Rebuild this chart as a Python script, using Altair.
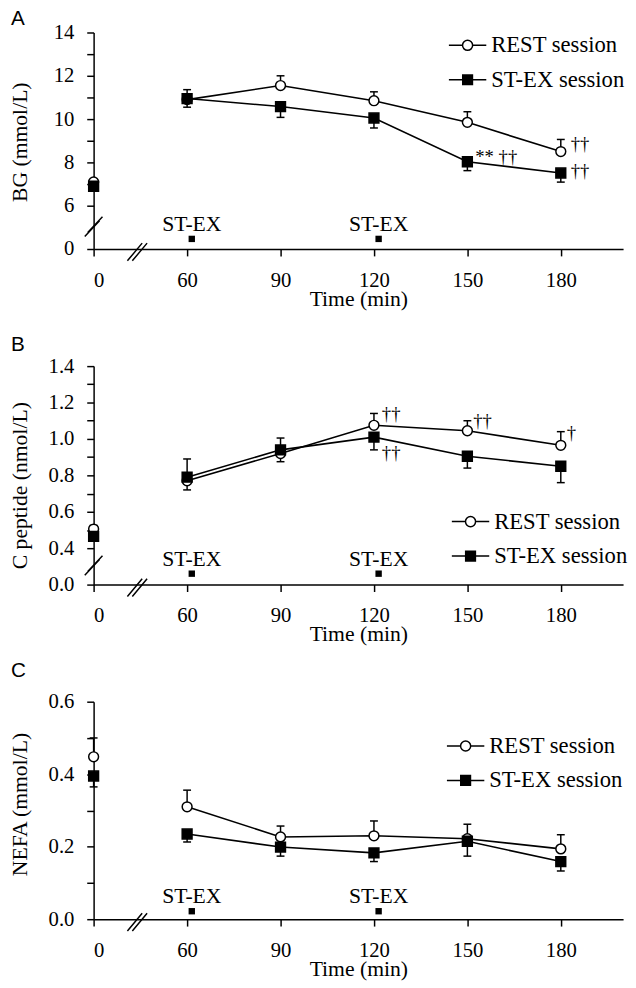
import altair as alt
import pandas as pd

# ---------------- data ----------------
times = [0, 60, 90, 120, 150, 180]
series_names = ["REST session", "ST-EX session"]

# Panel A: blood glucose (mmol/L), mean and SE
bg_rest = [7.1, 10.9, 11.55, 10.85, 9.85, 8.5]
bg_rest_se = [0.1, 0.46, 0.45, 0.41, 0.49, 0.56]
bg_rest_dir = [1, 1, 1, 1, 1, 1]
bg_st = [6.9, 10.95, 10.58, 10.05, 8.03, 7.51]
bg_st_se = [0.1, 0.4, 0.5, 0.46, 0.41, 0.42]
bg_st_dir = [-1, -1, -1, -1, -1, -1]

# Panel B: C peptide (nmol/L)
cp_rest = [0.505, 0.77, 0.92, 1.075, 1.045, 0.965]
cp_rest_se = [0.02, 0.05, 0.045, 0.065, 0.055, 0.075]
cp_rest_dir = [1, -1, -1, 1, 1, 1]
cp_st = [0.465, 0.79, 0.94, 1.01, 0.905, 0.85]
cp_st_se = [0.02, 0.1, 0.065, 0.07, 0.065, 0.09]
cp_st_dir = [-1, 1, 1, -1, -1, -1]

# Panel C: NEFA (mmol/L)
nefa_rest = [0.448, 0.31, 0.227, 0.23, 0.222, 0.194]
nefa_rest_se = [0.052, 0.046, 0.03, 0.041, 0.04, 0.039]
nefa_rest_dir = [1, 1, 1, 1, 1, 1]
nefa_st = [0.395, 0.235, 0.199, 0.183, 0.215, 0.159]
nefa_st_se = [0.03, 0.022, 0.025, 0.024, 0.041, 0.026]
nefa_st_dir = [-1, -1, -1, -1, -1, -1]

exercise_times = [61.5, 121.5]
exercise_labels = ["ST-EX", "ST-EX"]

# significance marks
sig_panel = ["A", "A", "A", "B", "B", "B", "B"]
sig_series = ["ST-EX session", "REST session", "ST-EX session",
              "REST session", "ST-EX session", "REST session", "REST session"]
sig_time = [150, 180, 180, 120, 120, 150, 180]
sig_text = ["**  \u2020\u2020", "\u2020\u2020", "\u2020\u2020",
            "\u2020\u2020", "\u2020\u2020", "\u2020\u2020", "\u2020"]
# style: pixel offsets of each mark from its data point
sig_offsets = [(8, 1), (10, -2), (10, 4), (8, -5), (8, 22), (6, -4), (6, -6)]

# ---------------- styling ----------------
SERIF = "Liberation Serif"
SANS = "Liberation Sans"
W = 538
X_DOMAIN = [0, 60, 200]
X_RANGE = [0, 95, W]

REST_PATH = ("M-1,0H-0.27M0.27,0H1M0.27,0A0.27,0.27,0,1,1,-0.27,0"
             "A0.27,0.27,0,1,1,0.27,0Z")
ST_PATH = "M-1,0H-0.26M0.26,0H1M-0.26,-0.26H0.26V0.26H-0.26Z"
XBREAK_PATH = "M-1,1.2L0.5,-0.6M-0.5,1.2L1,-0.6"
YBREAK_PATH = "M-0.9,1L0.6,-0.6M-0.6,0.6L0.9,-1"


def series_frame(rest, rest_se, rest_dir, st, st_se, st_dir):
    rows = []
    for name, vals, ses, dirs in [(series_names[0], rest, rest_se, rest_dir),
                                  (series_names[1], st, st_se, st_dir)]:
        for t, v, s, d in zip(times, vals, ses, dirs):
            rows.append({"time": t, "value": v, "err_end": v + d * s, "series": name})
    return pd.DataFrame(rows)


panels = [
    dict(key="A", ytitle="BG (mmol/L)", height=220,
         ydomain=[0, 6, 14], yrange=[220, 176, 0],
         yticks=[0, 6, 7, 8, 9, 10, 11, 12, 13, 14], yfmt="d",
         lexpr="datum.value % 2 == 1 ? '' : datum.label",
         ybreak=3.1, ex_y=1.4, legend=(360, -7), title_y=111, title_off=-24.5,
         df=series_frame(bg_rest, bg_rest_se, bg_rest_dir, bg_st, bg_st_se, bg_st_dir)),
    dict(key="B", ytitle="C peptide (nmol/L)", height=222,
         ydomain=[0, 0.4, 1.4], yrange=[222, 185, 0],
         yticks=[0, 0.4, 0.5, 0.6, 0.7, 0.8, 0.9, 1.0, 1.1, 1.2, 1.3, 1.4], yfmt=".1f",
         lexpr="round(datum.value * 10) % 2 == 1 ? '' : datum.label",
         ybreak=0.21, ex_y=0.12, legend=(363, 138), title_y=121, title_off=-16.5,
         df=series_frame(cp_rest, cp_rest_se, cp_rest_dir, cp_st, cp_st_se, cp_st_dir)),
    dict(key="C", ytitle="NEFA (mmol/L)", height=221,
         ydomain=[0, 0.6], yrange=[221, 0],
         yticks=[0, 0.1, 0.2, 0.3, 0.4, 0.5, 0.6], yfmt=".1f",
         lexpr="round(datum.value * 10) % 2 == 1 ? '' : datum.label",
         ybreak=None, ex_y=0.022, legend=(358, 25), title_y=104, title_off=-6.5,
         df=series_frame(nefa_rest, nefa_rest_se, nefa_rest_dir, nefa_st, nefa_st_se, nefa_st_dir)),
]


def make_panel(p):
    df = p["df"]
    xenc = alt.X("time:Q", scale=alt.Scale(domain=X_DOMAIN, range=X_RANGE, nice=False, zero=False),
                 axis=alt.Axis(values=times, format="d", title="Time (min)", tickCount=50,
                               titleY=57, titleBaseline="alphabetic"))
    yscale = alt.Scale(domain=p["ydomain"], range=p["yrange"], nice=False, zero=False)
    yenc = alt.Y("value:Q", scale=yscale,
                 axis=alt.Axis(values=p["yticks"], format=p["yfmt"], labelExpr=p["lexpr"], tickCount=50,
                               title=p["ytitle"], titleX=-63, titleY=p["title_y"]))
    base = alt.Chart(df)

    err = base.mark_rule(color="black", strokeWidth=1.5).encode(
        x=xenc, y=yenc, y2="err_end:Q")
    caps = base.mark_tick(orient="horizontal", size=8, thickness=1.5, color="black", opacity=1).encode(
        x=xenc, y=alt.Y("err_end:Q", scale=yscale))
    lines = base.mark_line(color="black", strokeWidth=1.6).encode(
        x=xenc, y=yenc, detail="series:N").transform_filter("datum.time >= 60")
    pts = base.mark_point(opacity=1, size=100, stroke="black", strokeWidth=1.5).encode(
        x=xenc, y=yenc,
        shape=alt.Shape("series:N", scale=alt.Scale(domain=series_names, range=["circle", "square"]), legend=None),
        fill=alt.Fill("series:N", scale=alt.Scale(domain=series_names, range=["white", "black"]), legend=None))

    leg = alt.Legend(orient="none", legendX=p["legend"][0], legendY=p["legend"][1], title=None,
                     symbolSize=1444, symbolStrokeWidth=1.5, symbolStrokeColor="black", symbolOpacity=1,
                     labelFont=SERIF, labelFontSize=23, labelColor="black", labelOffset=4,
                     rowPadding=3, padding=0)
    legend_layer = base.mark_point(opacity=1, stroke="black", strokeWidth=1.5).encode(
        x=xenc, y=yenc,
        shape=alt.Shape("session:N", scale=alt.Scale(domain=series_names, range=[REST_PATH, ST_PATH]), legend=leg),
        fill=alt.Fill("session:N", scale=alt.Scale(domain=series_names, range=["white", "black"]), legend=leg),
        stroke=alt.Stroke("session:N", scale=alt.Scale(domain=series_names, range=["black", "black"]), legend=leg),
    ).transform_calculate(session="datum.series").transform_filter("false")

    ex_df = pd.DataFrame({"time": exercise_times, "value": [p["ex_y"]] * len(exercise_times),
                          "label": exercise_labels})
    ex_pts = alt.Chart(ex_df).mark_point(shape="square", filled=True, color="black", opacity=1, size=42).encode(
        x=xenc, y=yenc)
    ex_txt = alt.Chart(ex_df).mark_text(font=SERIF, fontSize=22, color="black", baseline="alphabetic",
                                        dy=-8).encode(x=xenc, y=yenc, text="label:N")

    layers = [err, caps, lines, pts, legend_layer, ex_pts, ex_txt]

    brk = [{"time": 28, "value": 0, "kind": "x"}]
    if p["ybreak"] is not None:
        brk.append({"time": 0, "value": p["ybreak"], "kind": "y"})
    brk_df = pd.DataFrame(brk)
    layers.append(alt.Chart(brk_df).transform_filter("datum.kind == 'x'").mark_point(
        shape=XBREAK_PATH, size=400, stroke="black", strokeWidth=1.5, fill=None, opacity=1).encode(x=xenc, y=yenc))
    if p["ybreak"] is not None:
        layers.append(alt.Chart(brk_df).transform_filter("datum.kind == 'y'").mark_point(
            shape=YBREAK_PATH, size=400, stroke="black", strokeWidth=1.5, fill=None, opacity=1).encode(x=xenc, y=yenc))

    for pan, ser, t, txt, off in zip(sig_panel, sig_series, sig_time, sig_text, sig_offsets):
        if pan != p["key"]:
            continue
        v = df[(df.series == ser) & (df.time == t)]["value"].iloc[0]
        sdf = pd.DataFrame({"time": [t], "value": [v], "label": [txt]})
        layers.append(alt.Chart(sdf).mark_text(font=SERIF, fontSize=19, color="black", fill="black",
                                               align="left", baseline="alphabetic",
                                               dx=off[0], dy=off[1]).encode(
            x=xenc, y=yenc, text="label:N"))

    return alt.layer(*layers).resolve_scale(shape="independent", fill="independent", stroke="independent").properties(
        width=W, height=p["height"],
        title=alt.TitleParams(text=p["key"], anchor="start", frame="group", font=SANS, fontSize=21,
                              fontWeight="normal", color="black", dx=-84, offset=p["title_off"],
                              baseline="alphabetic"))


chart = alt.vconcat(*[make_panel(p) for p in panels], spacing=119, bounds="flush").resolve_scale(
    shape="independent", fill="independent", stroke="independent", x="independent", y="independent"
).properties(padding={"top": -8, "left": 0, "right": 0, "bottom": 0}).configure_view(stroke=None).configure_axis(
    labelFont=SERIF, labelFontSize=21, labelColor="black", titleFont=SERIF, titleFontSize=22,
    titleFontWeight="normal", titleColor="black", tickSize=7, tickColor="black", tickWidth=1.5,
    domainColor="black", domainWidth=1.5, grid=False, labelPadding=14, titlePadding=4
).configure_axisY(labelPadding=13)

chart.save("out.html", embed_options={"renderer": "svg", "actions": False})
